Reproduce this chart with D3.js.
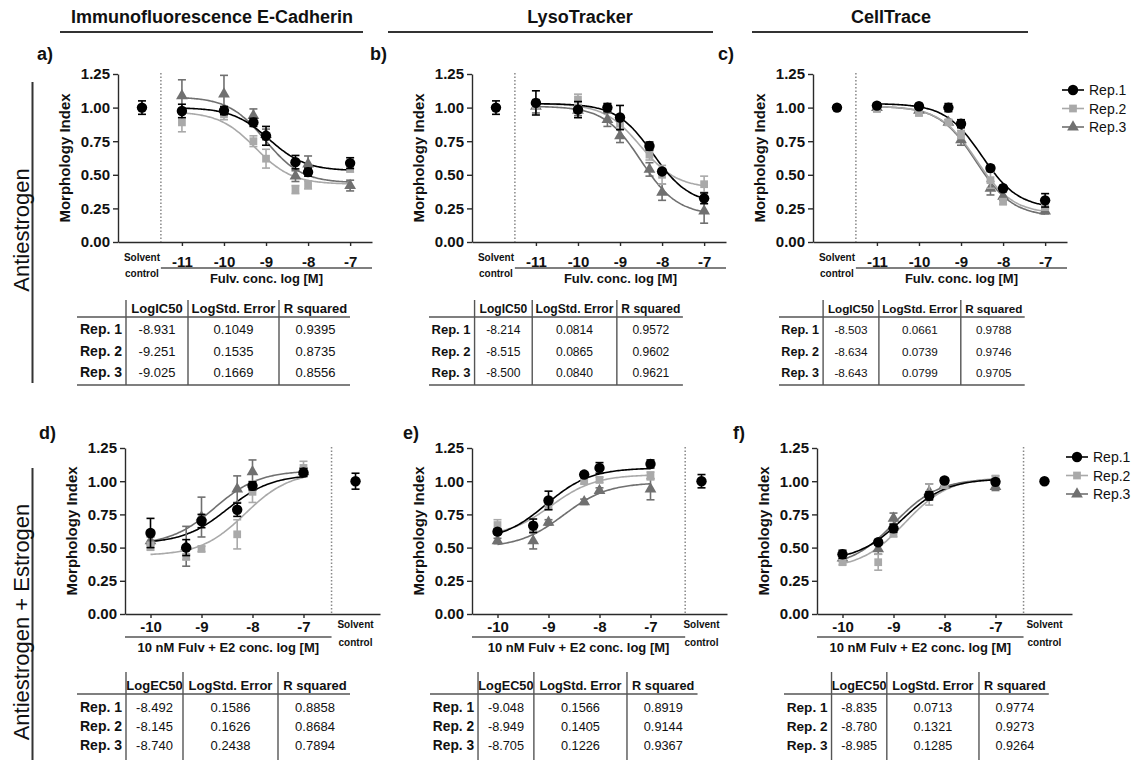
<!DOCTYPE html>
<html>
<head>
<meta charset="utf-8">
<script src="https://cdn.jsdelivr.net/npm/d3@7"></script>
<style>
  body { margin: 0; background: #fff; }
  text { font-family: "Liberation Sans", Arial, sans-serif; }
</style>
</head>
<body>
<svg width="1139" height="760"></svg>
<script>
const svg = d3.select("svg")

// ---- shared labels ----
const reps = ["Rep.1", "Rep.2", "Rep.3"]
const repRows = ["Rep. 1", "Rep. 2", "Rep. 3"]
const headers = ["Immunofluorescence E-Cadherin", "LysoTracker", "CellTrace"]
const sideLabels = ["Antiestrogen", "Antiestrogen + Estrogen"]
const yTicks = [0, 0.25, 0.5, 0.75, 1.0, 1.25]

const xTop = [-11, -10, -9.3, -9, -8.3, -8, -7]
const xTopTicks = [-11, -10, -9, -8, -7]
const xBottom = [-10, -9.3, -9, -8.3, -8, -7]
const xBottomTicks = [-10, -9, -8, -7]

// ---- a) Immunofluorescence, antiestrogen ----
const aMeans = [[0.975, 0.978, 0.89, 0.79, 0.594, 0.52, 0.587],
                [0.89, 0.95, 0.75, 0.62, 0.39, 0.425, 0.55],
                [1.087, 1.10, 0.94, 0.80, 0.49, 0.58, 0.42]]
const aErrs = [[0.05, 0.03, 0.03, 0.07, 0.05, 0.03, 0.04],
               [0.07, 0.04, 0.04, 0.07, 0.03, 0.03, 0.03],
               [0.12, 0.14, 0.05, 0.04, 0.04, 0.06, 0.04]]
const aTop = [1.0, 0.97, 1.08], aBottom = [0.53, 0.43, 0.44]
const aLog50 = [-8.931, -9.251, -9.025]
const aStdErr = ["0.1049", "0.1535", "0.1669"]
const aR2 = ["0.9395", "0.8735", "0.8556"]

// ---- b) LysoTracker, antiestrogen ----
const bMeans = [[1.035, 0.985, 1.0, 0.926, 0.714, 0.525, 0.325],
                [1.02, 1.06, 1.0, 0.88, 0.65, 0.50, 0.43],
                [1.01, 0.98, 0.91, 0.79, 0.54, 0.37, 0.23]]
const bErrs = [[0.09, 0.06, 0.03, 0.09, 0.03, 0.02, 0.04],
               [0.03, 0.04, 0.03, 0.04, 0.04, 0.07, 0.06],
               [0.05, 0.04, 0.05, 0.05, 0.05, 0.06, 0.09]]
const bTop = [1.03, 1.03, 1.01], bBottom = [0.28, 0.40, 0.20]
const bLog50 = [-8.214, -8.515, -8.500]
const bStdErr = ["0.0814", "0.0865", "0.0840"]
const bR2 = ["0.9572", "0.9602", "0.9621"]

// ---- c) CellTrace, antiestrogen ----
const cMeans = [[1.015, 1.01, 1.0, 0.88, 0.55, 0.40, 0.31],
                [0.99, 0.96, 0.89, 0.80, 0.46, 0.30, 0.26],
                [1.0, 0.98, 0.89, 0.76, 0.40, 0.34, 0.23]]
const cErrs = [[0.02, 0.02, 0.03, 0.03, 0.02, 0.02, 0.05],
               [0.02, 0.02, 0.02, 0.03, 0.06, 0.02, 0.02],
               [0.02, 0.02, 0.02, 0.04, 0.05, 0.03, 0.02]]
const cTop = [1.03, 1.01, 1.01], cBottom = [0.25, 0.21, 0.19]
const cLog50 = [-8.503, -8.634, -8.643]
const cStdErr = ["0.0661", "0.0739", "0.0799"]
const cR2 = ["0.9788", "0.9746", "0.9705"]

// ---- d) Immunofluorescence, antiestrogen + estrogen ----
const dMeans = [[0.61, 0.50, 0.70, 0.785, 0.965, 1.065],
                [0.51, 0.43, 0.49, 0.60, 0.92, 1.10],
                [0.55, 0.51, 0.73, 0.94, 1.07, 1.07]]
const dErrs = [[0.11, 0.06, 0.05, 0.05, 0.03, 0.03],
               [0.03, 0.02, 0.02, 0.11, 0.08, 0.05],
               [0.03, 0.15, 0.15, 0.10, 0.09, 0.03]]
const dTop = [1.05, 1.07, 1.08], dBottom = [0.53, 0.44, 0.52]
const dLog50 = [-8.492, -8.145, -8.740]
const dStdErr = ["0.1586", "0.1626", "0.2438"]
const dR2 = ["0.8858", "0.8684", "0.7894"]

// ---- e) LysoTracker, antiestrogen + estrogen ----
const eMeans = [[0.62, 0.665, 0.855, 1.05, 1.10, 1.13],
                [0.67, 0.66, 0.82, 1.0, 1.01, 1.04],
                [0.55, 0.55, 0.69, 0.845, 0.93, 0.94]]
const eErrs = [[0.02, 0.05, 0.07, 0.02, 0.04, 0.03],
               [0.04, 0.03, 0.03, 0.02, 0.02, 0.03],
               [0.02, 0.06, 0.02, 0.02, 0.02, 0.08]]
const eTop = [1.10, 1.05, 0.99], eBottom = [0.55, 0.58, 0.50]
const eLog50 = [-9.048, -8.949, -8.705]
const eStdErr = ["0.1566", "0.1405", "0.1226"]
const eR2 = ["0.8919", "0.9144", "0.9367"]

// ---- f) CellTrace, antiestrogen + estrogen ----
const fMeans = [[0.45, 0.54, 0.645, 0.89, 1.005, 0.995],
                [0.39, 0.39, 0.61, 0.90, 0.97, 1.02],
                [0.42, 0.49, 0.72, 0.92, 0.97, 0.96]]
const fErrs = [[0.03, 0.02, 0.03, 0.03, 0.02, 0.02],
               [0.02, 0.06, 0.03, 0.08, 0.02, 0.02],
               [0.02, 0.04, 0.04, 0.06, 0.02, 0.03]]
const fTop = [1.02, 1.03, 1.02], fBottom = [0.40, 0.34, 0.35]
const fLog50 = [-8.835, -8.780, -8.985]
const fStdErr = ["0.0713", "0.1321", "0.1285"]
const fR2 = ["0.9774", "0.9273", "0.9264"]

// solvent control (mean, sem) per panel a..f
const solventMean = [1.0, 1.0, 1.0, 1.0, 1.0, 1.0]
const solventErr = [0.05, 0.05, 0.02, 0.06, 0.05, 0.0]

// ---- styling ----
const colors = ["#000000", "#a9a9a9", "#707070"]
const symbols = [d3.symbolCircle, d3.symbolSquare, d3.symbolTriangle]
const symSize = [85, 60, 60]
const axisColor = "#2a2a2a"

const topRow = {topY: 74, bottomY: 242, w: 254, domain: [-12.52, -6.48], tickPad: 10,
  solvY: [19, 35], ulY: 26, labY: 41, label: "Fulv. conc. log [M]", rising: false,
  xs: xTop, ticks: xTopTicks, tableY: 313, rowYs: [334, 356, 377], tableTop: 300, tableBot: 385,
  col1: "LogIC50"}
const bottomRow = {topY: 448, bottomY: 614, w: 255, domain: [-10.5, -5.5], tickPad: 3,
  solvY: [14, 32], ulY: 23, labY: 38, label: "10 nM Fulv + E2 conc. log [M]", rising: true,
  xs: xBottom, ticks: xBottomTicks, tableY: 690, rowYs: [712, 731, 750], tableTop: 672, tableBot: 762,
  col1: "LogEC50"}

const panels = [
  {id: "a)", row: topRow, left: 118, lx: 37, dotX: -11.5, solvX: -11.95, tx: 77, ts: 1,
   means: aMeans, errs: aErrs, top: aTop, bottom: aBottom, log50: aLog50, se: aStdErr, r2: aR2},
  {id: "b)", row: topRow, left: 472, lx: 370, dotX: -11.5, solvX: -11.95, tx: 429, ts: 0.93,
   means: bMeans, errs: bErrs, top: bTop, bottom: bBottom, log50: bLog50, se: bStdErr, r2: bR2},
  {id: "c)", row: topRow, left: 813, lx: 718, dotX: -11.5, solvX: -11.95, tx: 779, ts: 0.9,
   legend: [1062, 90],
   means: cMeans, errs: cErrs, top: cTop, bottom: cBottom, log50: cLog50, se: cStdErr, r2: cR2},
  {id: "d)", row: bottomRow, left: 125, lx: 39, dotX: -6.45, solvX: -5.98, tx: 77, ts: 1,
   means: dMeans, errs: dErrs, top: dTop, bottom: dBottom, log50: dLog50, se: dStdErr, r2: dR2},
  {id: "e)", row: bottomRow, left: 472, lx: 403, dotX: -6.32, solvX: -6.0, tx: 430, ts: 0.98,
   means: eMeans, errs: eErrs, top: eTop, bottom: eBottom, log50: eLog50, se: eStdErr, r2: eR2},
  {id: "f)", row: bottomRow, left: 817, lx: 733, dotX: -6.45, solvX: -6.04, tx: 784, ts: 0.97,
   legend: [1066, 457],
   means: fMeans, errs: fErrs, top: fTop, bottom: fBottom, log50: fLog50, se: fStdErr, r2: fR2}
]

// 4-parameter logistic (hill slope 1)
function logistic(x, top, bottom, log50, rising) {
  const e = rising ? (log50 - x) : (x - log50)
  return bottom + (top - bottom) / (1 + Math.pow(10, e))
}

function drawMarker(g, sx, sy, i, m, e) {
  const c = colors[i]
  if (e > 0) {
    g.append("line").attr("x1", sx).attr("x2", sx)
      .attr("y1", sy(m - e)).attr("y2", sy(m + e))
      .attr("stroke", c).attr("stroke-width", 1.6)
    ;[m - e, m + e].forEach(v => {
      g.append("line").attr("x1", sx - 4).attr("x2", sx + 4)
        .attr("y1", sy(v)).attr("y2", sy(v))
        .attr("stroke", c).attr("stroke-width", 1.6)
    })
  }
  g.append("path")
    .attr("d", d3.symbol().type(symbols[i]).size(symSize[i])())
    .attr("transform", `translate(${sx},${sy(m)})`)
    .attr("fill", c)
}

function drawPanel(p, pi) {
  const r = p.row
  const g = svg.append("g")
  const x = d3.scaleLinear().domain(r.domain).range([p.left, p.left + r.w])
  const y = d3.scaleLinear().domain([0, 1.25]).range([r.bottomY, r.topY])

  // axes
  const ya = g.append("g").attr("transform", `translate(${p.left},0)`)
    .call(d3.axisLeft(y).tickValues(yTicks).tickFormat(d3.format(".2f")).tickSize(5).tickPadding(3).tickSizeOuter(0))
  const xa = g.append("g").attr("transform", `translate(0,${r.bottomY})`)
    .call(d3.axisBottom(x).tickValues(r.ticks).tickFormat(d => d).tickSize(4).tickPadding(r.tickPad).tickSizeOuter(0))
  ;[ya, xa].forEach(a => {
    a.selectAll("path, line").attr("stroke", axisColor).attr("stroke-width", 1.4)
    a.selectAll("text").attr("font-size", 15).attr("font-weight", "bold").attr("fill", "#111")
      .style("font-family", '"Liberation Sans", Arial, sans-serif')
  })

  // y title
  const yMid = (r.topY + r.bottomY) / 2
  g.append("text").attr("transform", `translate(${p.left - 48},${yMid}) rotate(-90)`)
    .attr("text-anchor", "middle").attr("font-size", 15).attr("font-weight", "bold")
    .attr("fill", "#111").text("Morphology Index")

  // dotted separator
  g.append("line").attr("x1", x(p.dotX)).attr("x2", x(p.dotX))
    .attr("y1", y(1.25) - 1).attr("y2", y(0))
    .attr("stroke", "#888").attr("stroke-width", 1.5).attr("stroke-dasharray", "1.5,2")

  // x title with its rule
  const ulFrom = r.rising ? r.domain[0] : p.dotX
  const ulTo = r.rising ? p.dotX : r.domain[1]
  g.append("line").attr("x1", x(ulFrom)).attr("x2", x(ulTo))
    .attr("y1", r.bottomY + r.ulY).attr("y2", r.bottomY + r.ulY)
    .attr("stroke", "#555").attr("stroke-width", 1.3)
  g.append("text").attr("x", (x(ulFrom) + x(ulTo)) / 2).attr("y", r.bottomY + r.labY)
    .attr("text-anchor", "middle").attr("font-size", 13).attr("font-weight", "bold")
    .attr("fill", "#111").text(r.label)

  // solvent control label
  ;["Solvent", "control"].forEach((t, k) => {
    g.append("text").attr("x", x(p.solvX)).attr("y", r.bottomY + r.solvY[k])
      .attr("text-anchor", "middle").attr("font-size", 10).attr("font-weight", "bold")
      .attr("fill", "#111").text(t)
  })

  // panel letter
  g.append("text").attr("x", p.lx).attr("y", r.topY - (pi < 3 ? 14 : 9))
    .attr("font-size", 18).attr("font-weight", "bold").attr("fill", "#111").text(p.id)

  // fitted curves
  const x0 = r.xs[0], x1 = r.xs[r.xs.length - 1]
  const line = d3.line().x(d => x(d)).curve(d3.curveBasis)
  ;[2, 1, 0].forEach(i => {
    const pts = d3.range(0, 101).map(k => x0 + (x1 - x0) * k / 100)
    g.append("path")
      .attr("d", line.y(v => y(logistic(v, p.top[i], p.bottom[i], p.log50[i], r.rising)))(pts))
      .attr("fill", "none").attr("stroke", colors[i]).attr("stroke-width", 1.6)
  })

  // points with SEM
  ;[2, 1, 0].forEach(i => {
    r.xs.forEach((xv, k) => drawMarker(g, x(xv), y, i, p.means[i][k], p.errs[i][k]))
  })
  drawMarker(g, x(p.solvX), y, 0, solventMean[pi], solventErr[pi])

  // legend
  if (p.legend) {
    const [lx, ly0] = p.legend
    reps.forEach((name, i) => {
      const ly = ly0 + i * 18.5
      g.append("line").attr("x1", lx).attr("x2", lx + 22).attr("y1", ly).attr("y2", ly)
        .attr("stroke", colors[i]).attr("stroke-width", 1.6)
      g.append("path").attr("d", d3.symbol().type(symbols[i]).size(symSize[i])())
        .attr("transform", `translate(${lx + 11},${ly})`).attr("fill", colors[i])
      g.append("text").attr("x", lx + 27).attr("y", ly + 5).attr("font-size", 14)
        .attr("fill", "#111").text(name)
    })
  }

  // results table
  drawTable(p, r)
}

function drawTable(p, r) {
  const s = p.ts
  const g = svg.append("g").attr("transform", `translate(${p.tx},0)`)
  const v1 = 49 * s, v2 = (r.rising ? 106 : 111) * s, v3 = (r.rising ? 201 : 202) * s, end = 273 * s
  const cx = [(v1 + v2) / 2, (v2 + v3) / 2, (v3 + end) / 2 + 1]
  const heads = [r.col1, "LogStd. Error", "R squared"]
  heads.forEach((h, k) => {
    g.append("text").attr("x", cx[k]).attr("y", r.tableY).attr("text-anchor", "middle")
      .attr("font-size", 13 * s).attr("font-weight", "bold").attr("fill", "#111").text(h)
  })
  g.append("line").attr("x1", 0).attr("x2", end).attr("y1", r.tableY + 4).attr("y2", r.tableY + 4)
    .attr("stroke", "#555").attr("stroke-width", 1.4)
  g.append("line").attr("x1", 0).attr("x2", end).attr("y1", r.tableBot).attr("y2", r.tableBot)
    .attr("stroke", "#555").attr("stroke-width", 1.4)
  ;[v1, v2, v3].forEach(v => {
    g.append("line").attr("x1", v).attr("x2", v).attr("y1", r.tableTop).attr("y2", r.tableBot)
      .attr("stroke", "#555").attr("stroke-width", 1.4)
  })
  repRows.forEach((name, i) => {
    const ty = r.rowYs[i]
    g.append("text").attr("x", v1 - 4).attr("y", ty).attr("text-anchor", "end")
      .attr("font-size", 14 * s).attr("font-weight", "bold").attr("fill", "#111").text(name)
    const vals = [p.log50[i].toFixed(3), p.se[i], p.r2[i]]
    vals.forEach((v, k) => {
      g.append("text").attr("x", cx[k]).attr("y", ty).attr("text-anchor", "middle")
        .attr("font-size", 13 * s).attr("fill", "#111").text(v)
    })
  })
}

panels.forEach(drawPanel)

// column headers
const headX = [[60, 363], [388, 713], [752, 1028]]
const headMid = [212, 580, 891]
headers.forEach((h, k) => {
  svg.append("text").attr("x", headMid[k]).attr("y", 23)
    .attr("text-anchor", "middle").attr("font-size", 18).attr("font-weight", "bold")
    .attr("fill", "#111").text(h)
  svg.append("line").attr("x1", headX[k][0]).attr("x2", headX[k][1]).attr("y1", 32).attr("y2", 32)
    .attr("stroke", "#333").attr("stroke-width", 2)
})

// row labels
const sideSpans = [[82, 383], [468, 760]]
const sideMid = [230, 622]
sideLabels.forEach((t, k) => {
  svg.append("line").attr("x1", 32.5).attr("x2", 32.5).attr("y1", sideSpans[k][0]).attr("y2", sideSpans[k][1])
    .attr("stroke", "#333").attr("stroke-width", 2)
  svg.append("text").attr("transform", `translate(29,${sideMid[k]}) rotate(-90)`)
    .attr("text-anchor", "middle").attr("font-size", 22).attr("fill", "#111").text(t)
})
</script>
</body>
</html>
